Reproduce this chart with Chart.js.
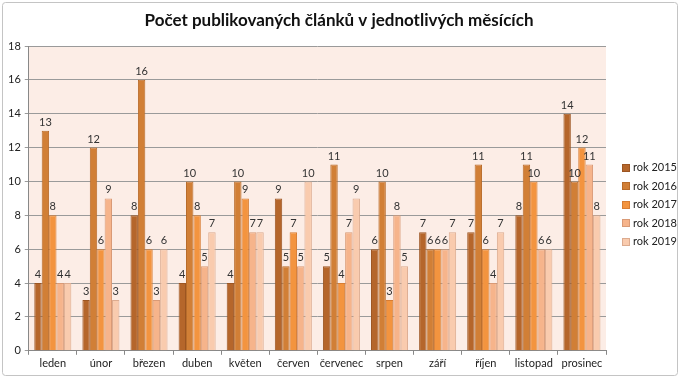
<!DOCTYPE html>
<html>
<head>
<meta charset="utf-8">
<script src="https://cdn.jsdelivr.net/npm/chart.js@4/dist/chart.umd.min.js"></script>
<style>
html,body{margin:0;padding:0;background:#fff;}
#wrap{position:absolute;left:0;top:0;width:680px;height:378px;}
</style>
</head>
<body>
<div id="wrap"><canvas id="c" width="680" height="378"></canvas></div>
<script>
const categories = ["leden","únor","březen","duben","květen","červen","červenec","srpen","září","říjen","listopad","prosinec"];
const seriesNames = ["rok 2015","rok 2016","rok 2017","rok 2018","rok 2019"];
const rok2015 = [4,3,8,4,4,9,5,6,7,7,8,14];
const rok2016 = [13,12,16,10,10,5,11,10,6,11,11,10];
const rok2017 = [8,6,6,8,9,7,4,3,6,6,10,12];
const rok2018 = [4,9,3,5,7,5,7,8,6,4,6,11];
const rok2019 = [4,3,6,7,7,10,9,5,7,7,6,8];
const titleText = "Počet publikovaných článků v jednotlivých měsících";

const fills = ["#b5662b","#d17f36","#f3943f","#f6b48b","#f9cbae"];
const borders = ["#9c5522","#b86b2a","#d77d33","#d99a76","#dcab8f"];
const seriesValues = [rok2015,rok2016,rok2017,rok2018,rok2019];

const FONT = "Lato, 'Open Sans', sans-serif";

const bgPlugin = {
  id:'bg',
  beforeDraw(chart){
    const {ctx, chartArea:a} = chart;
    ctx.save();
    ctx.fillStyle = "#fff";
    ctx.fillRect(0,0,chart.width,chart.height);
    ctx.fillStyle = "#fcede6";
    ctx.fillRect(a.left, a.top, a.right-a.left, a.bottom-a.top);
    ctx.strokeStyle = "#c4c4c4";
    ctx.lineWidth = 1;
    ctx.beginPath();
    ctx.roundRect ? ctx.roundRect(2.5,2.5,675,373,3) : ctx.rect(2.5,2.5,675,373);
    ctx.stroke();
    ctx.font = "bold 17px " + FONT;
    ctx.fillStyle = "#111";
    ctx.textAlign = "center";
    ctx.textBaseline = "middle";
    ctx.fillText(titleText, 339, 21);
    ctx.restore();
  }
};

const legendPlugin = {
  id:'customLegend',
  afterDraw(chart){
    const ctx = chart.ctx;
    ctx.save();
    ctx.font = "11px " + FONT;
    ctx.textAlign = "left";
    ctx.textBaseline = "middle";
    chart.data.datasets.forEach((ds,i)=>{
      const cy = 167.5 + i*18.6;
      ctx.fillStyle = ds.backgroundColor;
      ctx.fillRect(622, Math.round(cy-4), 8, 8);
      ctx.strokeStyle = ds.borderColor;
      ctx.lineWidth = 1;
      ctx.strokeRect(622.5, Math.round(cy-4)+0.5, 7, 7);
      ctx.fillStyle = "#222";
      ctx.fillText(ds.label, 633, cy);
    });
    ctx.restore();
  }
};

const labelPlugin = {
  id:'vals',
  afterDatasetsDraw(chart){
    const ctx = chart.ctx;
    ctx.save();
    ctx.font = "11px " + FONT;
    ctx.fillStyle = "#333";
    ctx.textAlign = "center";
    ctx.textBaseline = "bottom";
    chart.data.datasets.forEach((ds,i)=>{
      const meta = chart.getDatasetMeta(i);
      meta.data.forEach((bar,j)=>{
        ctx.fillText(String(ds.data[j]), bar.x, bar.y - 3);
      });
    });
    ctx.restore();
  }
};

new Chart(document.getElementById('c'), {
  type:'bar',
  data:{
    labels: categories,
    datasets: seriesNames.map((n,i)=>({
      label:n,
      data:seriesValues[i],
      backgroundColor:fills[i],
      borderColor:borders[i],
      borderWidth:1,
      categoryPercentage:0.77,
      barPercentage:1.0
    }))
  },
  options:{
    responsive:false,
    animation:false,
    devicePixelRatio:1,
    layout:{padding:{left:4,right:74,top:46,bottom:6}},
    plugins:{
      title:{display:false},
      legend:{display:false},
      tooltip:{enabled:false}
    },
    scales:{
      x:{
        grid:{display:true,drawOnChartArea:false,color:"#888",tickLength:4,offset:true},
        border:{color:"#888"},
        ticks:{color:"#222",font:{family:FONT,size:11},padding:2,maxRotation:0}
      },
      y:{
        min:0,max:18,
        ticks:{stepSize:2,color:"#222",font:{family:FONT,size:11},padding:4},
        grid:{color:"#9a9a9a",tickLength:4},
        border:{color:"#888"}
      }
    }
  },
  plugins:[bgPlugin,labelPlugin,legendPlugin]
});
</script>
</body>
</html>
